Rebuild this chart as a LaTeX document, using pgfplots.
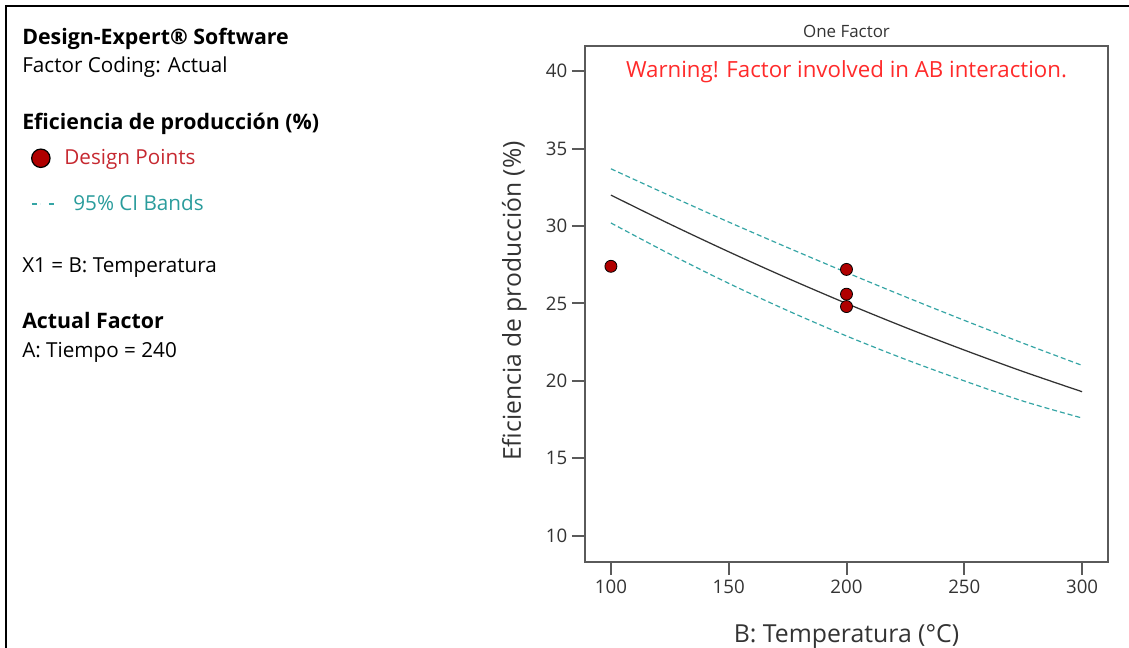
\documentclass[border=0pt]{standalone}
\usepackage{pgfplots}
\pgfplotsset{compat=1.18}
\usepackage{fontspec}
\setmainfont{Open Sans}
\definecolor{ptred}{HTML}{B00000}
\definecolor{citeal}{HTML}{35A5A5}
\definecolor{axgray}{HTML}{5A5A5A}
\definecolor{txtgray}{HTML}{333333}
\definecolor{legred}{HTML}{C62830}
\definecolor{legteal}{HTML}{2A9C9C}
\definecolor{warnred}{HTML}{FF2A2A}
\begin{document}
\begin{tikzpicture}
\path[use as bounding box] (0,0) rectangle (846.75pt,486pt);
\draw[black, line width=1.9pt] (4.5pt,0) -- (4.5pt,481.5pt) -- (846.75pt,481.5pt);
\begin{scope}[every node/.style={anchor=base west, inner sep=0pt, font=\fontsize{15.5}{18}\selectfont, text=black}]
\node[font=\fontsize{16}{18}\selectfont\bfseries] at (16.5pt,452.25pt) {Design-Expert® Software};
\node at (16.5pt,431.25pt) {Factor Coding: Actual};
\node[font=\fontsize{16}{18}\selectfont\bfseries] at (16.5pt,388.5pt) {Eficiencia de producción (\%)};
\node at (16.5pt,281.25pt) {X1 = B: Temperatura};
\node[font=\fontsize{16}{18}\selectfont\bfseries] at (16.5pt,239.25pt) {Actual Factor};
\node at (16.5pt,217.5pt) {A: Tiempo = 240};
\end{scope}
\begin{axis}[
  at={(438.75pt,64.5pt)}, anchor=south west,
  scale only axis, width=392.25pt, height=386.625pt,
  xmin=89, xmax=311, ymin=8.3, ymax=41.6,
  xtick={100,150,200,250,300}, ytick={10,15,20,25,30,35,40},
  xtick pos=bottom, ytick pos=left,
  tick align=outside, major tick length=9.75pt,
  axis line style={axgray, line width=1.5pt},
  tick style={axgray, line width=1.5pt},
  /pgf/number format/assume math mode=true,
  ticklabel style={font=\fontsize{14}{16}\selectfont, text=txtgray},
  xlabel={B: Temperatura (°C)},
  ylabel={Eficiencia de producción (\%)},
  xlabel style={at={(axis description cs:0.5,0)}, anchor=base, yshift=-60.75pt, font=\fontsize{18.6}{21}\selectfont, text=txtgray},
  ylabel style={at={(axis description cs:-0.1224,0.506)}, anchor=base, font=\fontsize{18.5}{21}\selectfont, text=txtgray},
  title={One Factor},
  title style={at={(axis description cs:0.5,1)}, anchor=base, yshift=1pt, font=\fontsize{12.7}{14}\selectfont, text=txtgray},
  reverse legend,
  legend cell align=left,
  legend style={at={(axis description cs:-1.0593,0.805)}, anchor=north west, draw=none, fill=none, inner sep=0pt, outer sep=0pt, row sep=17pt, font=\fontsize{15.5}{18}\selectfont},
]
\addplot[citeal, line width=0.9pt, dash pattern=on 3.75pt off 2.25pt, smooth, forget plot] coordinates {
(100,30.20) (125,28.19) (150,26.30) (175,24.54) (200,22.90) (225,21.39) (250,20.00) (275,18.69) (300,17.60)};
\addplot[black!80, line width=0.95pt, smooth, forget plot] coordinates {
(100,32.00) (125,30.13) (150,28.34) (175,26.63) (200,25.00) (225,23.45) (250,21.99) (275,20.60) (300,19.30)};
\addplot[citeal, line width=0.9pt, dash pattern=on 3.75pt off 2.25pt, smooth,
  legend image code/.code={\draw[citeal, line width=1.3pt] (0pt,0pt)--(6pt,0pt) (12.75pt,0pt)--(18.75pt,0pt);}] coordinates {
(100,33.70) (125,31.96) (150,30.26) (175,28.61) (200,27.00) (225,25.43) (250,23.91) (275,22.43) (300,21.00)};
\addlegendentry{\hspace*{9.75pt}\textcolor{legteal}{95\% CI Bands}}
\addplot[only marks, mark=*, mark size=4.5pt, mark options={fill=ptred, draw=black, line width=0.6pt},
  legend image code/.code={\draw[fill=ptred, draw=black, line width=0.9pt] (6.75pt,0pt) circle (6.9pt);}] coordinates {
(100,27.4) (200,27.2) (200,25.6) (200,24.8)};
\addlegendentry{\hspace*{3pt}\textcolor{legred}{Design Points}}
\node[anchor=base, inner sep=0pt, text=warnred, font=\fontsize{16.7}{19}\selectfont] at (axis description cs:0.5,0.939) {Warning! Factor involved in AB interaction.};
\end{axis}
\end{tikzpicture}
\end{document}
